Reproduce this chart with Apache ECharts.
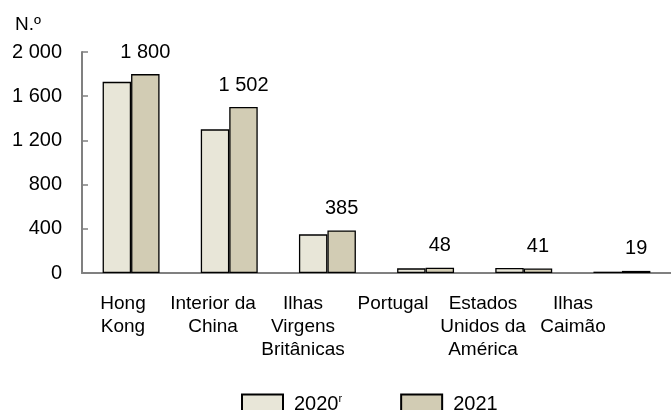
<!DOCTYPE html>
<html>
<head>
<meta charset="utf-8">
<script src="https://cdn.jsdelivr.net/npm/echarts@6/dist/echarts.min.js"></script>
<style>
  html, body { margin: 0; padding: 0; background: #fff; }
  #chart { width: 671px; height: 410px; }
</style>
</head>
<body>
<div id="chart"></div>
<script>
// categorias (países / territórios)
var categories = ['Hong\nKong', 'Interior da\nChina', 'Ilhas\nVirgens\nBritânicas', 'Portugal', 'Estados\nUnidos da\nAmérica', 'Ilhas\nCaimão'];
var values2020 = [1730, 1300, 350, 42, 45, 12];
var values2021 = [1800, 1502, 385, 48, 41, 19];
var yTicks = [0, 400, 800, 1200, 1600, 2000];

var FONT = '"Liberation Sans", Arial, sans-serif';
var GREY = '#808080';

function fmt(v) {
  // separador de milhares com espaço
  return String(v).replace(/\B(?=(\d{3})+(?!\d))/g, ' ');
}

var chart = echarts.init(document.getElementById('chart'));
chart.setOption({
  animation: false,
  title: {
    text: 'N.º',
    left: 15, top: 15, padding: 0,
    textStyle: { fontFamily: FONT, fontSize: 19, fontWeight: 'normal', color: '#000' }
  },
  legend: {
    data: ['2020', '2021'],
    left: 241, top: 393, padding: 0,
    itemWidth: 41, itemHeight: 20, itemGap: 58,
    icon: 'rect',
    textStyle: {
      fontFamily: FONT, fontSize: 20, color: '#000', padding: [0, 0, 0, 6],
      rich: { s: { fontSize: 11, fontFamily: FONT, verticalAlign: 'top', padding: [0, 0, 12, 0] } }
    },
    formatter: function (n) { return n === '2020' ? n + '{s|r}' : n; }
  },
  grid: [
    { left: 82, top: 52, width: 595, height: 221 },
    { left: 78, top: 52, width: 540, height: 221 }
  ],
  xAxis: [
    {
      type: 'category', gridIndex: 0, data: categories,
      axisLine: { lineStyle: { color: GREY, width: 2 } },
      axisTick: { inside: true, length: 5, lineStyle: { color: GREY, width: 1.5 } },
      axisLabel: { show: false }
    },
    {
      type: 'category', gridIndex: 1, data: categories,
      axisLine: { show: false }, axisTick: { show: false },
      axisLabel: { margin: 19, fontFamily: FONT, fontSize: 19, color: '#000', lineHeight: 23, interval: 0 }
    }
  ],
  yAxis: [
    {
      type: 'value', gridIndex: 0, min: 0, max: 2000, interval: 400,
      axisLine: { show: true, lineStyle: { color: GREY, width: 2 } },
      axisTick: { show: true, inside: true, length: 6, lineStyle: { color: GREY, width: 1.5 } },
      splitLine: { show: false },
      axisLabel: {
        margin: 20, fontFamily: FONT, fontSize: 20, color: '#000',
        formatter: function (v) { return yTicks.indexOf(v) >= 0 ? fmt(v) : ''; }
      }
    },
    { type: 'value', gridIndex: 1, show: false, min: 0, max: 2000 }
  ],
  series: [
    {
      name: '2020', type: 'bar', xAxisIndex: 0, yAxisIndex: 0,
      data: values2020, barGap: '0%', barCategoryGap: '42%',
      itemStyle: { color: '#E8E6D8', borderColor: '#000', borderWidth: 1.3 }
    },
    {
      name: '2021', type: 'bar', xAxisIndex: 0, yAxisIndex: 0,
      data: values2021, barGap: '0%', barCategoryGap: '42%',
      itemStyle: { color: '#D2CCB4', borderColor: '#000', borderWidth: 1.3 },
      label: {
        show: true, position: 'top', distance: 12,
        fontFamily: FONT, fontSize: 20, color: '#000',
        formatter: function (p) { return fmt(p.value); }
      }
    }
  ]
});
</script>
</body>
</html>
